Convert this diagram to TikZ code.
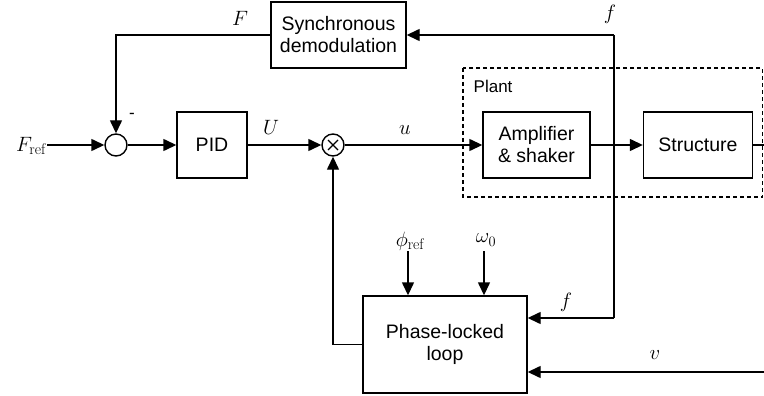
\documentclass[tikz,border=0pt]{standalone}
\usepackage{fontspec}
\setsansfont{Liberation Sans}
\usetikzlibrary{arrows.meta}
\begin{document}
\begin{tikzpicture}[x=1pt,y=-1pt, line width=1.4pt,
  blk/.style={draw, rectangle, inner sep=0pt, align=center,
    font=\sffamily\fontsize{19.5}{22}\selectfont},
  junc/.style={draw, circle, minimum size=22pt, inner sep=0pt},
  arr/.style={-{Triangle[length=13pt,width=12pt]}},
  lbl/.style={font=\fontsize{22}{24}\selectfont, inner sep=0pt},
  slbl/.style={font=\sffamily\fontsize{17}{20}\selectfont, inner sep=0pt}]
\useasboundingbox (0,0) rectangle (764,396);
% plant frame
\draw[dashed, dash pattern=on 4pt off 3pt] (463,68) rectangle (762.5,197);
\node[slbl, anchor=west] (plant) at (473,86) {Plant};
% blocks
\node[blk, minimum width=135pt, minimum height=66pt] (sync) at (338.5,35) {Synchronous\\demodulation};
\node[blk, minimum width=70pt, minimum height=66pt] (pid) at (212,145) {PID};
\node[blk, minimum width=107pt, minimum height=66pt] (amp) at (536.5,145) {Amplifier\\\& shaker};
\node[blk, minimum width=109pt, minimum height=66pt] (str) at (698,145) {Structure};
\node[blk, minimum width=164pt, minimum height=97pt] (pll) at (445,344.5) {Phase-locked\\loop};
\node[junc] (sum) at (116,145) {};
\node[junc] (mul) at (333,145) {};
\draw[line width=1.2pt] ([shift={(-5,-5)}]mul.center) -- ([shift={(5,5)}]mul.center)
  ([shift={(-5,5)}]mul.center) -- ([shift={(5,-5)}]mul.center);
% coordinates
\coordinate (fin) at (47,145);
\coordinate (ftop) at (614,35);
\coordinate (fbot) at (614,318);
\coordinate (sout) at (764,145);
\coordinate (vin) at (764,372);
\coordinate (phi) at (408,251);
\coordinate (om) at (484,251);
% connectors
\draw[arr] (fin) -- (sum.west);
\draw[arr] (sync.west) -| (sum.north);
\draw[arr] (sum.east) -- (pid.west);
\draw[arr] (pid.east) -- (mul.west);
\draw[arr] (mul.east) -- (amp.west);
\draw[arr] (amp.east) -- (str.west);
\draw (str.east) -- (sout);
\draw[arr] (ftop) -- (sync.east);
\draw (ftop) -- (fbot);
\draw[arr] (fbot) -- (fbot -| pll.east);
\draw[arr] (vin) -- (vin -| pll.east);
\draw[arr] (phi) -- (phi |- pll.north);
\draw[arr] (om) -- (om |- pll.north);
\draw[arr] (pll.west) -| (mul.south);
% labels
\node[lbl] (lF) at (240,18) {$F$};
\node[slbl] (lminus) at (132,116) {-};
\node[lbl] (lFref) at (31,146) {$F_{\mathrm{ref}}$};
\node[lbl] (lf1) at (610,14) {$f$};
\node[lbl] (lU) at (271,127) {$U$};
\node[lbl] (lu) at (405,130) {$u$};
\node[lbl] (lphi) at (410,241) {$\phi_{\mathrm{ref}}$};
\node[lbl] (lom) at (486,240) {$\omega_0$};
\node[lbl] (lf2) at (566,302) {$f$};
\node[lbl] (lv) at (655,355) {$v$};
\end{tikzpicture}
\end{document}
